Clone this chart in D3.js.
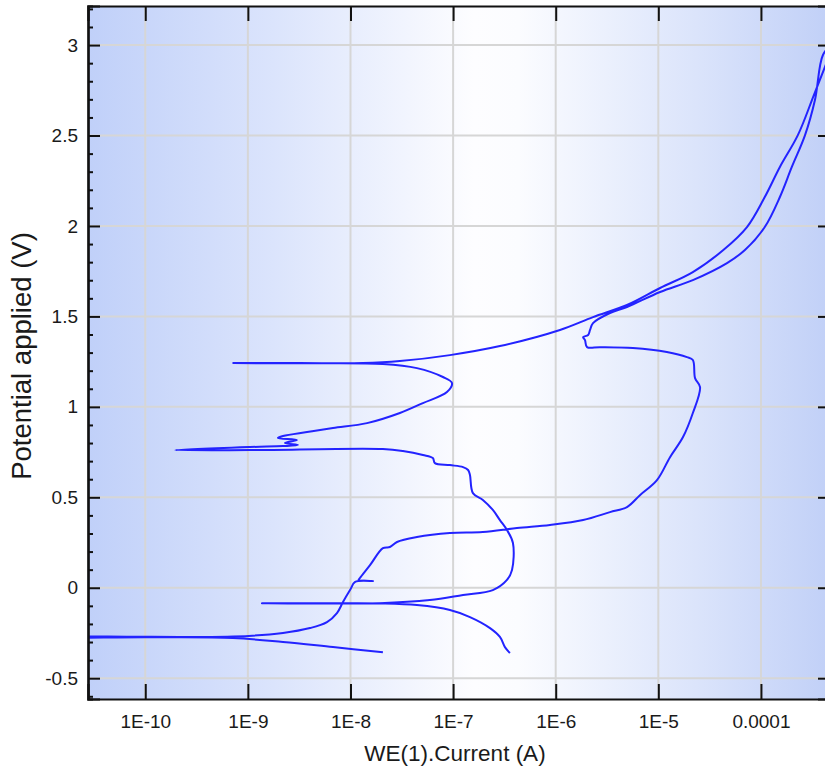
<!DOCTYPE html>
<html>
<head>
<meta charset="utf-8">
<script src="https://cdn.jsdelivr.net/npm/d3@7"></script>
<style>
  html, body { margin: 0; padding: 0; background: #ffffff; }
  svg { display: block; font-family: "Liberation Sans", Arial, sans-serif; }
</style>
</head>
<body>
<svg id="chart" width="825" height="774"></svg>
<script>
// ---- data (current in A, potential in V), in scan order ----
const currentA = [
  2.07e-8, 6.75e-9, 2.2e-9, 7.16e-10, 1.11e-10, 1e-11,
  1e-11, 1.1e-10, 7.2e-10, 2.2e-9, 4.03e-9, 5.9e-9, 7.38e-9, 8.45e-9, 9.9e-9,
  1.11e-8, 1.66e-8, 1.2e-8, 1.236e-8, 1.55e-8, 2.07e-8, 2.42e-8, 2.84e-8, 4.44e-8,
  9.31e-8, 1.95e-7, 4.19e-7, 8.79e-7, 1.85e-6, 3.38e-6, 4.95e-6, 6.62e-6, 9.7e-6,
  1.30e-5, 1.74e-5, 2.17e-5, 2.55e-5, 2.28e-5, 2.17e-5, 1.9e-5, 1.21e-5, 5.66e-6,
  2.7e-6, 2.02e-6, 1.93e-6, 1.85e-6, 2.07e-6, 2.16e-6, 2.31e-6, 3.38e-6, 4.95e-6,
  1.04e-5, 2.17e-5, 4.67e-5, 6.98e-5, 1.09e-4, 1.53e-4, 2.0e-4, 2.69e-4, 3.36e-4, 4.02e-4,
  4.9e-4,
  3.14e-4, 2.29e-4, 1.53e-4, 1.09e-4, 7.31e-5, 4.3e-5, 2.17e-5, 1.04e-5, 4.95e-6,
  2.31e-6, 1.1e-6, 2.86e-7, 9.31e-8, 3.03e-8, 1.32e-8, 3.2e-9, 7.2e-10,
  3.2e-9, 2.07e-8, 4.44e-8, 7.96e-8, 9.75e-8, 8.71e-8, 5.08e-8, 3.03e-8, 1.45e-8,
  6.75e-9, 3.77e-9, 2.2e-9, 1.96e-9, 3.0e-9, 2.3e-9, 3.08e-9, 2.2e-9, 1.05e-9, 1.95e-10,
  1.05e-9, 2.07e-8, 3.24e-8, 5.08e-8, 6.35e-8, 6.65e-8, 9.31e-8, 1.25e-7, 1.40e-7,
  1.46e-7, 1.56e-7, 1.95e-7, 2.44e-7, 2.86e-7, 3.35e-7, 3.83e-7, 3.75e-7, 3.35e-7,
  2.44e-7, 1.25e-7, 5.94e-8, 1.94e-8, 1.37e-9,
  6.3e-9, 2.07e-8, 4.44e-8, 9.31e-8, 1.46e-7, 2.29e-7, 2.86e-7, 3.2e-7, 3.58e-7
];
const potentialV = [
  -0.356, -0.328, -0.300, -0.278, -0.274, -0.273,
  -0.272, -0.271, -0.270, -0.250, -0.223, -0.190, -0.140, -0.079, -0.013,
  0.032, 0.037, 0.043, 0.054, 0.125, 0.219, 0.225, 0.253, 0.280,
  0.302, 0.308, 0.330, 0.347, 0.374, 0.418, 0.446, 0.512, 0.595,
  0.722, 0.833, 0.966, 1.109, 1.159, 1.259, 1.275, 1.303, 1.325,
  1.330, 1.330, 1.369, 1.386, 1.397, 1.425, 1.463, 1.519, 1.552,
  1.635, 1.701, 1.795, 1.867, 1.994, 2.160, 2.326, 2.502, 2.696, 2.945,
  3.000,
  2.696, 2.502, 2.326, 2.160, 1.994, 1.867, 1.745, 1.657, 1.563,
  1.496, 1.425, 1.336, 1.286, 1.253, 1.242, 1.242, 1.242,
  1.241, 1.237, 1.214, 1.165, 1.132, 1.082, 1.021, 0.966, 0.910,
  0.883, 0.861, 0.839, 0.828, 0.816, 0.800, 0.789, 0.783, 0.778, 0.761,
  0.761, 0.767, 0.756, 0.734, 0.717, 0.689, 0.678, 0.667, 0.651,
  0.623, 0.523, 0.485, 0.430, 0.374, 0.319, 0.247, 0.098, 0.043,
  -0.013, -0.040, -0.068, -0.085, -0.085,
  -0.086, -0.087, -0.096, -0.123, -0.162, -0.223, -0.272, -0.328, -0.361
];
const xTickValues = [1e-10, 1e-9, 1e-8, 1e-7, 1e-6, 1e-5, 1e-4];
const xTickLabels = ["1E-10", "1E-9", "1E-8", "1E-7", "1E-6", "1E-5", "0.0001"];
const yTickValues = [-0.5, 0, 0.5, 1, 1.5, 2, 2.5, 3];
const yTickLabels = ["-0.5", "0", "0.5", "1", "1.5", "2", "2.5", "3"];
const xTitle = "WE(1).Current (A)";
const yTitle = "Potential applied (V)";

// ---- layout ----
const svg = d3.select("#chart");
const L = 88, R = 830, T = 6, B = 699;
const x = d3.scaleLog().domain([Math.pow(10, -10.558), Math.pow(10, -3.327)]).range([L, R]);
const y = d3.scaleLinear().domain([-0.615, 3.216]).range([B, T]);

const defs = svg.append("defs");
const grad = defs.append("linearGradient").attr("id", "bg").attr("x1", "0").attr("x2", "1").attr("y1", "0").attr("y2", "0");
[[0, "#c0d0f9"], [0.25, "#dbe4fc"], [0.52, "#fdfdff"], [0.58, "#fbfcff"], [0.82, "#dbe4fb"], [1, "#c1d0f7"]]
  .forEach(([o, c]) => grad.append("stop").attr("offset", o).attr("stop-color", c));
defs.append("clipPath").attr("id", "clip").append("rect")
  .attr("x", L).attr("y", T).attr("width", R - L).attr("height", B - T);

svg.append("rect").attr("x", L).attr("y", T).attr("width", R - L).attr("height", B - T).attr("fill", "url(#bg)");

// grid
const grid = svg.append("g").attr("stroke", "#d6d6d6").attr("stroke-width", 2);
grid.selectAll("line.gx").data(xTickValues).join("line").attr("class", "gx")
  .attr("x1", d => x(d)).attr("x2", d => x(d)).attr("y1", T).attr("y2", B);
grid.selectAll("line.gy").data(yTickValues).join("line").attr("class", "gy")
  .attr("x1", L).attr("x2", R).attr("y1", d => y(d)).attr("y2", d => y(d));

// curve
const pts = currentA.map((c, i) => [c, potentialV[i]]);
svg.append("g").attr("clip-path", "url(#clip)")
  .append("path").datum(pts)
  .attr("fill", "none").attr("stroke", "#2323ff").attr("stroke-width", 2)
  .attr("stroke-linejoin", "round")
  .attr("d", d3.line().curve(d3.curveCatmullRom.alpha(0.5)).x(d => x(d[0])).y(d => y(d[1])));

// axes
const txtColor = "#1a1a1a";
const axB = svg.append("g").attr("transform", `translate(0,${B})`)
  .call(d3.axisBottom(x).tickValues(xTickValues).tickFormat((d, i) => xTickLabels[i]).tickSize(-15).tickPadding(16));
const axT = svg.append("g").attr("transform", `translate(0,${T})`)
  .call(d3.axisTop(x).tickValues(xTickValues).tickFormat("").tickSize(-15));
const axL = svg.append("g").attr("transform", `translate(${L},0)`)
  .call(d3.axisLeft(y).tickValues(yTickValues).tickFormat((d, i) => yTickLabels[i]).tickSize(-12).tickPadding(10));
const minorY = d3.range(-6, 33).map(v => v / 10).filter(v => Math.abs(v * 2 - Math.round(v * 2)) > 1e-6);
const axLm = svg.append("g").attr("transform", `translate(${L},0)`)
  .call(d3.axisLeft(y).tickValues(minorY).tickFormat("").tickSize(-5));
const axR = svg.append("g").attr("transform", `translate(${R},0)`)
  .call(d3.axisRight(y).tickValues(yTickValues).tickFormat("").tickSize(-12));

[axB, axT, axL, axLm, axR].forEach(g => {
  g.select(".domain").attr("stroke", "#111").attr("stroke-width", 2.2);
  g.selectAll(".tick line").attr("stroke", "#111").attr("stroke-width", 2);
  g.selectAll(".tick text").attr("fill", txtColor).style("font-size", "19px")
    .style("font-family", "'Liberation Sans', Arial, sans-serif");
});

// titles
svg.append("text").attr("x", 455).attr("y", 761).attr("text-anchor", "middle")
  .attr("fill", txtColor).style("font-size", "22.5px").text(xTitle);
svg.append("text").attr("transform", "translate(31,356) rotate(-90)").attr("text-anchor", "middle")
  .attr("fill", txtColor).style("font-size", "27.5px").text(yTitle);
</script>
</body>
</html>
